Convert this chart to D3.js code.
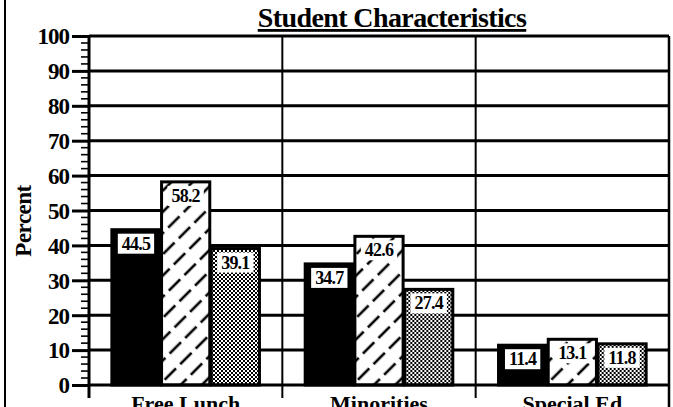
<!DOCTYPE html>
<html>
<head>
<meta charset="utf-8">
<script src="https://cdn.jsdelivr.net/npm/d3@7"></script>
<style>
  html, body { margin: 0; padding: 0; background: #fff; }
  svg { display: block; }
  svg text { font-family: "Liberation Serif", "DejaVu Serif", serif; font-weight: bold; fill: #000; }
</style>
</head>
<body>
<svg id="chart" width="673" height="407"></svg>
<script>
// Student characteristics, percent of students in each group
const categories = ["Free Lunch", "Minorities", "Special Ed"];
const seriesNames = ["solid", "hatched", "dotted"];
const solidValues = [44.5, 34.7, 11.4];
const hatchedValues = [58.2, 42.6, 13.1];
const dottedValues = [39.1, 27.4, 11.8];
const yTicks = [0, 10, 20, 30, 40, 50, 60, 70, 80, 90, 100];
const minorTicks = d3.range(0, 101, 2).filter(v => v % 10 !== 0);

const rows = categories.map((c, i) => ({
  category: c,
  values: [
    { key: "solid", value: solidValues[i] },
    { key: "hatched", value: hatchedValues[i] },
    { key: "dotted", value: dottedValues[i] }
  ]
}));

const serif = "'Liberation Serif', 'DejaVu Serif', serif";
const svg = d3.select("#chart");
const plotLeft = 89, plotRight = 669, plotTop = 36, plotBottom = 385;

const x0 = d3.scaleBand().domain(categories).range([plotLeft, plotRight]).padding(0);
const x1 = d3.scaleBand().domain(seriesNames).range([0, x0.bandwidth()])
  .paddingInner(0.03).paddingOuter(0.46);
const y = d3.scaleLinear().domain([0, 100]).range([plotBottom, plotTop]);

// fill patterns
const defs = svg.append("defs");
const hatch = defs.append("pattern").attr("id", "hatch")
  .attr("patternUnits", "userSpaceOnUse").attr("width", 15).attr("height", 22)
  .attr("patternTransform", "rotate(45)");
hatch.append("rect").attr("width", 15).attr("height", 22).attr("fill", "#fff");
hatch.append("line").attr("x1", 7).attr("x2", 7).attr("y1", 1).attr("y2", 17)
  .attr("stroke", "#000").attr("stroke-width", 2.6);

const dots = defs.append("pattern").attr("id", "dots")
  .attr("patternUnits", "userSpaceOnUse").attr("width", 4).attr("height", 4);
dots.append("rect").attr("width", 4).attr("height", 4).attr("fill", "#000");
dots.append("rect").attr("x", 0).attr("y", 0).attr("width", 2).attr("height", 2).attr("fill", "#fff");
dots.append("rect").attr("x", 2).attr("y", 2).attr("width", 2).attr("height", 2).attr("fill", "#fff");

const fills = { solid: "#000", hatched: "url(#hatch)", dotted: "url(#dots)" };

// outer frame edges
svg.append("line").attr("x1", 5).attr("x2", 5).attr("y1", 0).attr("y2", 407)
  .attr("stroke", "#000").attr("stroke-width", 2);
svg.append("line").attr("x1", plotRight).attr("x2", plotRight).attr("y1", plotTop).attr("y2", 407)
  .attr("stroke", "#000").attr("stroke-width", 2.5);

// horizontal gridlines
svg.append("g").selectAll("line").data(yTicks.filter(v => v > 0)).join("line")
  .attr("x1", plotLeft).attr("x2", plotRight)
  .attr("y1", d => y(d)).attr("y2", d => y(d))
  .attr("stroke", "#000").attr("stroke-width", 3);

// vertical category separators, extended below the axis as ticks
svg.append("g").selectAll("line").data(categories.slice(1)).join("line")
  .attr("x1", d => x0(d)).attr("x2", d => x0(d))
  .attr("y1", plotTop).attr("y2", plotBottom + 13)
  .attr("stroke", "#000").attr("stroke-width", 2);

// bars
const groups = svg.append("g").selectAll("g").data(rows).join("g")
  .attr("transform", d => `translate(${x0(d.category)},0)`);

groups.selectAll("rect").data(d => d.values).join("rect")
  .attr("x", d => x1(d.key))
  .attr("y", d => y(d.value))
  .attr("width", x1.bandwidth())
  .attr("height", d => y(0) - y(d.value))
  .attr("fill", d => fills[d.key])
  .attr("stroke", "#000").attr("stroke-width", 3);

// value labels in white boxes at the top of each bar
groups.each(function(row) {
  const g = d3.select(this);
  row.values.forEach(d => {
    const cx = x1(d.key) + x1.bandwidth() / 2;
    const ty = y(d.value) + 4;
    const t = g.append("text")
      .attr("x", cx).attr("y", ty + 16)
      .attr("text-anchor", "middle")
      .attr("font-family", serif).attr("font-weight", "bold")
      .attr("font-size", 18)
      .attr("letter-spacing", -0.8)
      .text(d.value.toFixed(1));
    const w = t.node().getComputedTextLength();
    g.insert("rect", () => t.node())
      .attr("x", cx - w / 2 - 4).attr("y", ty)
      .attr("width", w + 8).attr("height", 20)
      .attr("fill", "#fff");
  });
});

// x axis line
svg.append("line").attr("x1", plotLeft).attr("x2", plotRight)
  .attr("y1", plotBottom).attr("y2", plotBottom)
  .attr("stroke", "#000").attr("stroke-width", 3);

// y axis with major and minor ticks
const yAxis = d3.axisLeft(y).tickValues(yTicks).tickSize(17).tickPadding(3)
  .tickFormat(d3.format("d"));
const ya = svg.append("g").attr("transform", `translate(${plotLeft},0)`).call(yAxis);
ya.attr("font-family", serif);
ya.select(".domain").remove();
ya.selectAll(".tick line").attr("stroke", "#000").attr("stroke-width", 3);
ya.selectAll(".tick text").attr("font-size", 23)
  .attr("font-family", serif).attr("font-weight", "bold")
  .attr("letter-spacing", -1).attr("dy", "0.34em");

svg.append("g").selectAll("line").data(minorTicks).join("line")
  .attr("x1", plotLeft - 8).attr("x2", plotLeft)
  .attr("y1", d => y(d)).attr("y2", d => y(d))
  .attr("stroke", "#000").attr("stroke-width", 1.6);

svg.append("line").attr("x1", plotLeft).attr("x2", plotLeft)
  .attr("y1", plotTop - 1).attr("y2", plotBottom + 13)
  .attr("stroke", "#000").attr("stroke-width", 3);

// category labels
svg.append("g").selectAll("text").data(categories).join("text")
  .attr("x", d => x0(d) + x0.bandwidth() / 2)
  .attr("y", 411)
  .attr("text-anchor", "middle")
  .attr("font-family", serif).attr("font-weight", "bold")
  .attr("font-size", 22)
  .text(d => d);

// y axis title
svg.append("text")
  .attr("transform", `translate(31,${y(47)}) rotate(-90)`)
  .attr("text-anchor", "middle")
  .attr("font-family", serif).attr("font-weight", "bold")
  .attr("font-size", 23)
  .attr("letter-spacing", -0.5)
  .text("Percent");

// chart title
svg.append("text")
  .attr("x", 392).attr("y", 27)
  .attr("text-anchor", "middle")
  .attr("font-family", serif).attr("font-weight", "bold")
  .attr("font-size", 28)
  .attr("letter-spacing", -0.6)
  .attr("text-decoration", "underline")
  .text("Student Characteristics");
</script>
</body>
</html>
